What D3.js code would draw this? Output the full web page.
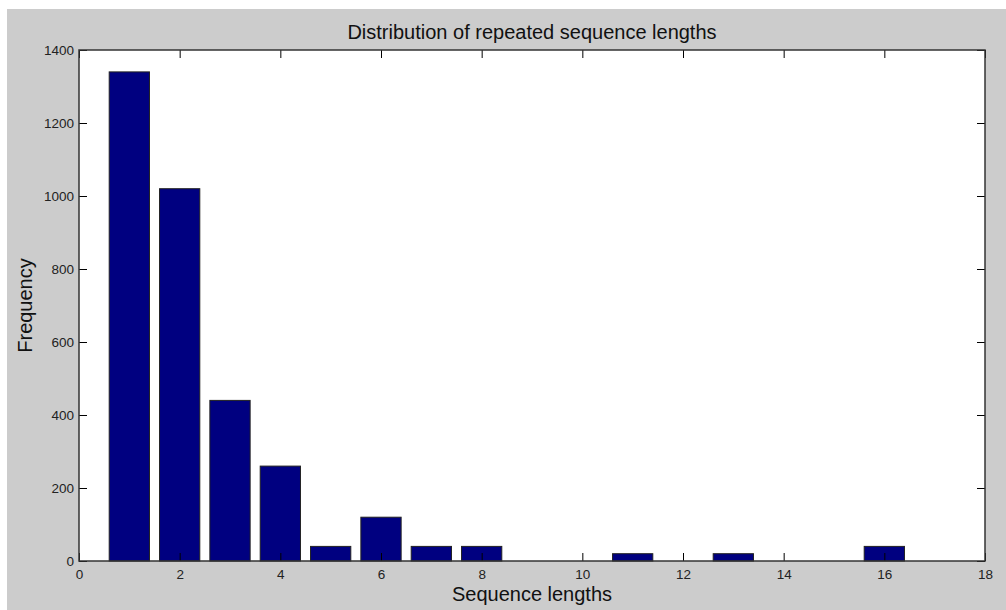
<!DOCTYPE html>
<html><head><meta charset="utf-8">
<script src="https://cdn.jsdelivr.net/npm/d3@7"></script>
<style>body{margin:0;background:#fff}svg{display:block}text{font-family:"Liberation Sans",Arial,sans-serif}</style>
</head><body>
<script>
const lengths = [1,2,3,4,5,6,7,8,9,10,11,12,13,14,15,16,17];
const frequencies = [1340,1020,440,260,40,120,40,40,0,0,20,0,20,0,0,40,0];
const xTicks = [0,2,4,6,8,10,12,14,16,18];
const yTicks = [0,200,400,600,800,1000,1200,1400];
const title = "Distribution of repeated sequence lengths";
const xLabel = "Sequence lengths";
const yLabel = "Frequency";

const W = 1006, H = 610;
const m = {left:79, right:985, top:50, bottom:561};
const svg = d3.select("body").append("svg").attr("width",W).attr("height",H);
svg.append("rect").attr("x",7).attr("y",9).attr("width",W-7).attr("height",H-9).attr("fill","#cccccc");

const x = d3.scaleLinear().domain([0,18]).range([m.left,m.right]);
const y = d3.scaleLinear().domain([0,1400]).range([m.bottom,m.top]);

svg.append("rect").attr("x",m.left).attr("y",m.top).attr("width",m.right-m.left).attr("height",m.bottom-m.top).attr("fill","#fff");

const bw = 0.8;
svg.append("g").selectAll("rect").data(lengths.map((l,i)=>({l,v:frequencies[i]})).filter(d=>d.v>0))
  .join("rect")
  .attr("x",d=>x(d.l-bw/2)).attr("width",d=>x(d.l+bw/2)-x(d.l-bw/2))
  .attr("y",d=>y(d.v)).attr("height",d=>y(0)-y(d.v))
  .attr("fill","#000080").attr("stroke","#222").attr("stroke-width",1);

const tk = 8;
function styleAxis(g){g.select(".domain").remove();g.selectAll(".tick line").attr("stroke","#000");g.selectAll(".tick text").attr("fill","#222").style("font-size","13.5px");}
svg.append("g").attr("transform",`translate(0,${m.bottom})`)
  .call(d3.axisBottom(x).tickValues(xTicks).tickSize(-tk).tickPadding(8).tickFormat(d3.format("d")))
  .call(styleAxis);
svg.append("g").attr("transform",`translate(0,${m.top})`)
  .call(d3.axisTop(x).tickValues(xTicks).tickSize(-tk).tickFormat(""))
  .call(styleAxis);
svg.append("g").attr("transform",`translate(${m.left},0)`)
  .call(d3.axisLeft(y).tickValues(yTicks).tickSize(-tk).tickPadding(5).tickFormat(d3.format("d")))
  .call(styleAxis);
svg.append("g").attr("transform",`translate(${m.right},0)`)
  .call(d3.axisRight(y).tickValues(yTicks).tickSize(-tk).tickFormat(""))
  .call(styleAxis);

svg.append("rect").attr("x",m.left).attr("y",m.top).attr("width",m.right-m.left).attr("height",m.bottom-m.top)
  .attr("fill","none").attr("stroke","#333").attr("stroke-width",1.5);

svg.append("text").attr("x",(m.left+m.right)/2).attr("y",39).attr("text-anchor","middle")
  .style("font-size","20px").attr("fill","#111").text(title);
svg.append("text").attr("x",(m.left+m.right)/2).attr("y",601).attr("text-anchor","middle")
  .style("font-size","20px").attr("fill","#111").text(xLabel);
svg.append("text").attr("transform",`translate(32,${(m.top+m.bottom)/2}) rotate(-90)`).attr("text-anchor","middle")
  .style("font-size","20px").attr("fill","#111").text(yLabel);
</script>
</body></html>
